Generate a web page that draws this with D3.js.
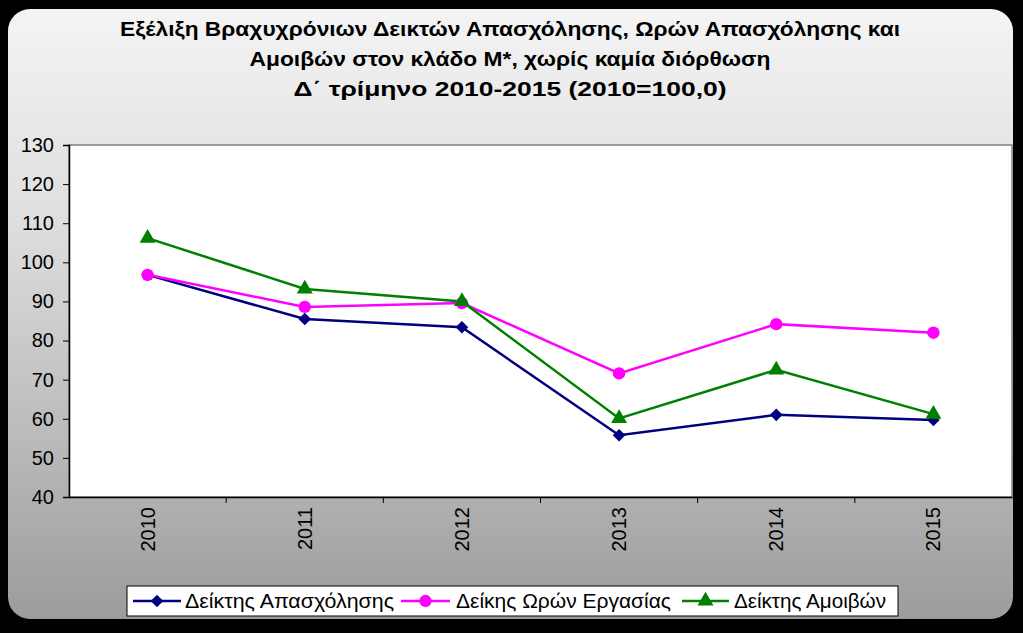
<!DOCTYPE html>
<html><head><meta charset="utf-8">
<script src="https://cdn.jsdelivr.net/npm/d3@7"></script>
<style>html,body{margin:0;padding:0;background:#000;}svg{display:block;}</style>
</head><body>
<svg id="c" width="1023" height="633"></svg>
<script>
const categories = ["2010","2011","2012","2013","2014","2015"];
const seriesNames = ["Δείκτης Απασχόλησης","Δείκης Ωρών Εργασίας","Δείκτης Αμοιβών"];
const employment = [96.8, 85.5, 83.4, 55.8, 61.0, 59.7];
const hours = [96.8, 88.6, 89.6, 71.6, 84.2, 82.0];
const wages = [106.2, 93.2, 90.0, 60.1, 72.5, 61.2];
const yTicks = [40,50,60,70,80,90,100,110,120,130];
const titleLines = ["Εξέλιξη Βραχυχρόνιων Δεικτών Απασχόλησης, Ωρών Απασχόλησης και",
  "Αμοιβών στον κλάδο Μ*, χωρίς καμία διόρθωση",
  "Δ΄ τρίμηνο 2010-2015 (2010=100,0)"];

const svg = d3.select("#c");
const W = 1023, H = 633;
svg.append("rect").attr("width",W).attr("height",H).attr("fill","#000");
const defs = svg.append("defs");
const g1 = defs.append("linearGradient").attr("id","bg").attr("x1",0).attr("y1",0).attr("x2",0).attr("y2",1);
g1.append("stop").attr("offset","0%").attr("stop-color","#f4f4f4");
g1.append("stop").attr("offset","35%").attr("stop-color","#dedede");
g1.append("stop").attr("offset","100%").attr("stop-color","#9c9c9c");
svg.append("rect").attr("x",8).attr("y",9).attr("width",1005).attr("height",610)
  .attr("rx",22).attr("ry",22).attr("fill","url(#bg)");

// title
const titleW = [780, 521, 433];
titleLines.forEach((t,i)=>{
  svg.append("text").attr("x",510).attr("y",36+i*30).attr("text-anchor","middle")
    .attr("font-family","Liberation Sans, Arial, sans-serif").attr("font-weight","bold")
    .attr("font-size",21).attr("fill","#000")
    .attr("textLength",titleW[i]).attr("lengthAdjust","spacingAndGlyphs").text(t);
});

const plot = {l:69, r:1012, t:145, b:497};
const x = d3.scaleBand().domain(categories).range([plot.l, plot.r]).padding(0);
const y = d3.scaleLinear().domain([40,130]).range([plot.b, plot.t]);

svg.append("rect").attr("x",plot.l).attr("y",plot.t).attr("width",plot.r-plot.l).attr("height",plot.b-plot.t)
  .attr("fill","#fff").attr("stroke","#808080").attr("stroke-width",1.5);

// y axis
const ya = svg.append("g").attr("transform",`translate(${plot.l},0)`)
  .call(d3.axisLeft(y).tickValues(yTicks).tickSize(6).tickPadding(9));
ya.select(".domain").attr("stroke","#000").attr("stroke-width",1.5);
ya.selectAll(".tick line").attr("stroke","#000");
ya.selectAll("text").attr("font-family","Liberation Sans, Arial, sans-serif").attr("font-size",20).attr("fill","#000");

// x axis
const xa = svg.append("g").attr("transform",`translate(0,${plot.b})`)
  .call(d3.axisBottom(x).tickSize(0).tickFormat(d=>d));
xa.select(".domain").attr("stroke","#000").attr("stroke-width",1.5);
xa.selectAll(".tick text").attr("font-family","Liberation Sans, Arial, sans-serif").attr("font-size",20).attr("fill","#000")
  .attr("transform","rotate(-90)").attr("text-anchor","end").attr("x",-10).attr("y",0).attr("dy","0.35em");
// category boundary ticks
svg.append("g").selectAll("line").data(categories.slice(1)).join("line")
  .attr("x1",d=>x(d)).attr("x2",d=>x(d)).attr("y1",plot.b).attr("y2",plot.b+6).attr("stroke","#000");

const series = [
  {name:seriesNames[0], values:employment, color:"#000080", sym:d3.symbolSquare, size:80, rot:45},
  {name:seriesNames[1], values:hours, color:"#ff00ff", sym:d3.symbolCircle, size:120, rot:0},
  {name:seriesNames[2], values:wages, color:"#008000", sym:d3.symbolTriangle, size:110, rot:0}
];
const cx = c => x(c) + x.bandwidth()/2;
const line = d3.line().x((d,i)=>cx(categories[i])).y(d=>y(d));
series.forEach(s=>{
  svg.append("path").datum(s.values).attr("d",line).attr("fill","none")
    .attr("stroke",s.color).attr("stroke-width",2.5);
});
series.forEach(s=>{
  svg.append("g").selectAll("path").data(s.values).join("path")
    .attr("transform",(d,i)=>`translate(${cx(categories[i])},${y(d)}) rotate(${s.rot})`)
    .attr("d",d3.symbol().type(s.sym).size(s.size)).attr("fill",s.color);
});

// legend
svg.append("rect").attr("x",127).attr("y",586).attr("width",771).attr("height",30)
  .attr("fill","#fff").attr("stroke","#000").attr("stroke-width",1);
const legItems = [
  {x0:133, x1:181, tx:185, tw:209},
  {x0:401, x1:450, tx:456, tw:215},
  {x0:682, x1:729, tx:734, tw:152}
];
series.forEach((s,i)=>{
  const L = legItems[i], ly = 601;
  svg.append("line").attr("x1",L.x0).attr("x2",L.x1).attr("y1",ly).attr("y2",ly)
    .attr("stroke",s.color).attr("stroke-width",2.5);
  svg.append("path").attr("transform",`translate(${(L.x0+L.x1)/2},${ly}) rotate(${s.rot})`)
    .attr("d",d3.symbol().type(s.sym).size(s.size)).attr("fill",s.color);
  svg.append("text").attr("x",L.tx).attr("y",ly+7).attr("font-family","Liberation Sans, Arial, sans-serif")
    .attr("font-size",20).attr("fill","#000").attr("textLength",L.tw).attr("lengthAdjust","spacingAndGlyphs").text(s.name);
});
</script>
</body></html>
